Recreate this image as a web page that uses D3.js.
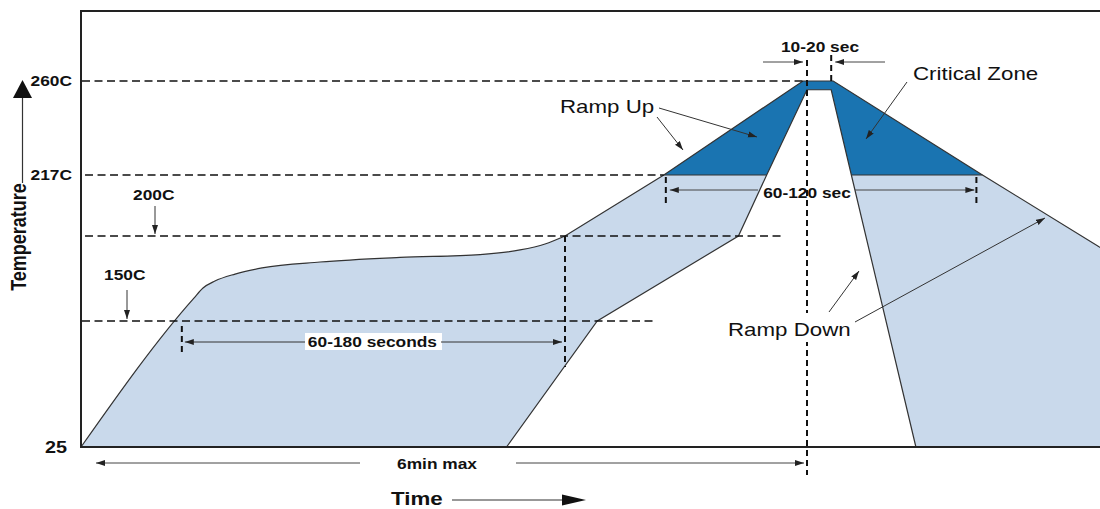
<!DOCTYPE html>
<html>
<head>
<meta charset="utf-8">
<script src="https://cdn.jsdelivr.net/npm/d3@7"></script>
<style>
    body { margin: 0; background: #fff; }
    text { font-family: "Liberation Sans", Arial, sans-serif; fill: #111; }
</style>
</head>
<body>
<script>
// reflow profile, time in seconds / temperature in C

var tempTicks = [25, 150, 200, 217, 260];
var tickLabels = ["25", "150C", "200C", "217C", "260C"];

// upper (max) profile: rounded preheat + soak part
var maxRise = [[0, 25], [56, 163.5], [60.5, 169.4], [66.4, 173.5], [76.4, 177.6],
               [89.8, 181.2], [118.5, 184.7], [158.2, 187.4], [197.9, 189.1],
               [217.7, 191.8], [230.1, 195.3], [240, 200]];
// upper (max) profile: straight ramp, peak and cooling
var maxPeak = [[240, 200], [289, 217], [358, 260], [373, 260], [447, 217], [505, 193.5]];
// lower (min) profile
var minProfile = [[211, 25], [256, 150], [326, 200], [340, 217], [360, 256],
                  [372, 256], [382, 217], [414, 25]];

// dashed reference lines: temperature, start and end time
var refTemps = [260, 217, 200, 150];
var refFrom = [0.5, 2, 2, 0.5];
var refTo = [358, 289, 347, 284];

// time spans marked on the chart
var soakSpan = [50, 240];     // 60-180 seconds
var liquidusSpan = [290, 444]; // 60-120 sec
var peakSpan = [360, 372];    // 10-20 sec
var totalSpan = [0, 360];     // 6min max
var tEnd = 505.3;

window.onload = setChart();

function setChart(){
    var width = 1100,
        height = 509,
        sx = 1.24; // the original is stretched sideways

    var svg = d3.select("body")
        .append("svg")
        .attr("width", width)
        .attr("height", height);

    //time scale, seconds to pixels
    var x = d3.scaleLinear()
        .domain([0, 360])
        .range([81, 807]);

    //the temperature axis is not to scale, so piecewise
    var y = d3.scaleLinear()
        .domain(tempTicks)
        .range([447, 321, 236, 175, 81]);

    var lineCurve = d3.line()
        .x(function(d){ return x(d[0]); })
        .y(function(d){ return y(d[1]); })
        .curve(d3.curveMonotoneX);
    var lineStraight = d3.line()
        .x(function(d){ return x(d[0]); })
        .y(function(d){ return y(d[1]); });

    function cont(pts){ return lineStraight(pts).replace("M", "L"); }

    //arrowhead markers
    var defs = svg.append("defs");
    defs.append("marker")
        .attr("id", "ah")
        .attr("viewBox", "0 -4 9 8")
        .attr("refX", 9)
        .attr("refY", 0)
        .attr("markerUnits", "userSpaceOnUse")
        .attr("markerWidth", 9)
        .attr("markerHeight", 8)
        .attr("orient", "auto")
        .append("path")
        .attr("d", "M0,-3L9,0L0,3Z")
        .attr("fill", "#222");

    var lightBlue = "#c9d9eb",
        darkBlue = "#1a74b1",
        outline = "#333";

    var upToLiq = maxPeak.filter(function(d){ return d[0] <= 289; });
    var minLeft = minProfile.filter(function(d){ return d[0] <= 340; });
    var minRight = minProfile.filter(function(d){ return d[0] >= 382; });
    var minTop = minProfile.filter(function(d){ return d[0] >= 340 && d[0] <= 382; });
    var maxTop = maxPeak.filter(function(d){ return d[0] >= 289 && d[1] >= 217; });

    //light band left of the peak
    svg.append("path")
        .attr("d", lineCurve(maxRise) + cont(upToLiq) + cont(minLeft.slice().reverse()) + "Z")
        .attr("fill", lightBlue);

    //light band right of the peak
    svg.append("path")
        .attr("d", lineStraight(minRight) + cont([[tEnd, 25], [tEnd, 193.5]]) +
            cont(maxPeak.filter(function(d){ return d[0] >= 447; }).reverse()) + "Z")
        .attr("fill", lightBlue);

    //critical zone above 217C
    svg.append("path")
        .attr("d", lineStraight(maxTop) + cont(minTop.slice().reverse()) + "Z")
        .attr("fill", darkBlue);

    //profile outlines
    svg.append("path")
        .attr("d", lineCurve(maxRise) + cont(maxPeak.concat([[tEnd, 193.3]])))
        .attr("fill", "none")
        .attr("stroke", outline)
        .attr("stroke-width", 1.2);
    svg.append("path")
        .attr("d", lineStraight(minProfile))
        .attr("fill", "none")
        .attr("stroke", outline)
        .attr("stroke-width", 1.2);
    [[289, 340], [382, 447]].forEach(function(s){
        svg.append("line")
            .attr("x1", x(s[0])).attr("x2", x(s[1]))
            .attr("y1", y(217)).attr("y2", y(217))
            .attr("stroke", outline)
            .attr("stroke-width", 1.2);
    });

    //dashed temperature lines
    refTemps.forEach(function(t, i){
        svg.append("line")
            .attr("x1", x(refFrom[i])).attr("x2", x(refTo[i]))
            .attr("y1", y(t)).attr("y2", y(t))
            .attr("stroke", "#111")
            .attr("stroke-width", 1.5)
            .attr("stroke-dasharray", "8,4.5");
    });

    //vertical dashed markers
    function vdash(t, y1, y2){
        svg.append("line")
            .attr("x1", x(t)).attr("x2", x(t))
            .attr("y1", y1).attr("y2", y2)
            .attr("stroke", "#111")
            .attr("stroke-width", 2)
            .attr("stroke-dasharray", "6,4");
    }
    vdash(soakSpan[0], y(150) + 5, y(150) + 31);
    vdash(soakSpan[1], y(200), y(150) + 46);
    vdash(liquidusSpan[0], y(217) + 2, y(217) + 28);
    vdash(liquidusSpan[1], y(217) + 2, y(217) + 28);
    vdash(peakSpan[1], y(260) - 26, y(260));
    vdash(peakSpan[0], y(260) - 21, y(25) + 28);

    //frame
    svg.append("path")
        .attr("d", "M" + width + "," + 11 + "H" + x(0) + "V" + y(25) + "H" + width)
        .attr("fill", "none")
        .attr("stroke", "#222")
        .attr("stroke-width", 2);

    function arrow(x1, y1, x2, y2, col){
        svg.append("line")
            .attr("x1", x1).attr("y1", y1)
            .attr("x2", x2).attr("y2", y2)
            .attr("stroke", col || "#333")
            .attr("stroke-width", 1)
            .attr("marker-end", "url(#ah)");
    }

    function label(px, py, str, size, weight, anchor, extra){
        return svg.append("text")
            .attr("transform", "translate(" + px + "," + py + ") scale(" + sx + ",1)" + (extra || ""))
            .attr("text-anchor", anchor || "start")
            .style("font-size", size + "px")
            .style("font-weight", weight)
            .text(str);
    }

    //temperature labels
    label(72, y(260) + 5, tickLabels[4], 14, "bold", "end");
    label(72, y(217) + 5, tickLabels[3], 14, "bold", "end");
    label(133, y(200) - 36, tickLabels[2], 14, "bold", "start");
    label(104, y(150) - 41, tickLabels[1], 14, "bold", "start");
    label(67, y(25) + 6, tickLabels[0], 16, "bold", "end");
    arrow(155, y(200) - 30, 155, y(200) - 2);
    arrow(127, y(150) - 31, 127, y(150) - 2);

    //60-180 seconds
    var ys = y(150) + 21;
    svg.append("rect")
        .attr("x", 305).attr("y", ys - 9)
        .attr("width", 137).attr("height", 17)
        .attr("fill", "#fff");
    arrow(305, ys, x(soakSpan[0]) + 3, ys);
    arrow(441, ys, x(soakSpan[1]) - 3, ys);
    label((x(soakSpan[0]) + x(soakSpan[1])) / 2 - 1, ys + 5, "60-180 seconds", 14, "bold", "middle");

    //60-120 sec
    var yl = y(217) + 15;
    arrow(758, yl, x(liquidusSpan[0]) + 4, yl, "#444");
    arrow(855, yl, x(liquidusSpan[1]) - 2, yl, "#444");
    label(807, yl + 8, "60-120 sec", 14, "bold", "middle");

    //10-20 sec
    var yp = y(260) - 19;
    arrow(763, yp, x(peakSpan[0]) - 4, yp, "#444");
    arrow(885, yp, x(peakSpan[1]) + 4, yp, "#444");
    label(820, y(260) - 29, "10-20 sec", 14, "bold", "middle");

    //6min max
    var yt = y(25) + 16;
    arrow(360, yt, x(totalSpan[0]) + 15, yt, "#444");
    arrow(516, yt, x(totalSpan[1]) - 3, yt, "#444");
    label(437, yt + 6, "6min max", 14, "bold", "middle");

    //axis titles with their big arrows
    label(391, 505, "Time", 18, "bold", "start");
    svg.append("line")
        .attr("x1", 452).attr("x2", 563)
        .attr("y1", 500).attr("y2", 500)
        .attr("stroke", "#333").attr("stroke-width", 1.2);
    svg.append("path")
        .attr("d", "M562,494.5L586,500L562,505.5Z")
        .attr("fill", "#111");

    label(26, 237, "Temperature", 18, "bold", "middle", " rotate(-90)");
    svg.append("line")
        .attr("x1", 22.5).attr("x2", 22.5)
        .attr("y1", 97).attr("y2", 183)
        .attr("stroke", "#333").attr("stroke-width", 1.2);
    svg.append("path")
        .attr("d", "M13,98L22.5,80L32,98Z")
        .attr("fill", "#111");

    //callouts
    svg.append("rect")
        .attr("x", 724).attr("y", 313)
        .attr("width", 126).attr("height", 29)
        .attr("fill", "#fff");
    label(560, 113, "Ramp Up", 18, "normal", "start");
    arrow(659, 108, 757, 137);
    arrow(657, 117, 683, 150);
    label(913, 80, "Critical Zone", 18, "normal", "start");
    arrow(907, 82, 866, 139);
    label(728, 336, "Ramp Down", 18, "normal", "start");
    arrow(829, 312, 859, 271);
    arrow(855, 322, 1045, 218);
}
</script>
</body>
</html>
